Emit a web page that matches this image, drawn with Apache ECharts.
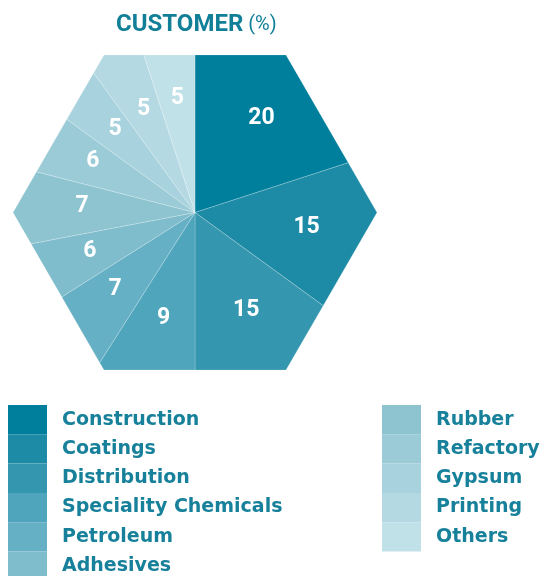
<!DOCTYPE html>
<html>
<head>
<meta charset="utf-8">
<script src="https://cdn.jsdelivr.net/npm/echarts@6/dist/echarts.min.js"></script>
<style>
html,body{margin:0;padding:0;background:#fff;}
#chart{width:541px;height:576px;}
</style>
</head>
<body>
<div id="chart"></div>
<script>
const categories = ['Construction','Coatings','Distribution','Speciality Chemicals','Petroleum','Adhesives','Rubber','Refactory','Gypsum','Printing','Others'];
const values = [20,15,15,9,7,6,7,6,5,5,5];
const colors = ['#007F9D','#1E8BA6','#3597AF','#4EA5BC','#65B0C5','#7FBCCC','#8DC4D0','#9ACBD7','#A8D2DD','#B4D9E2','#C1E1E8'];
const legendLeftItems = categories.slice(0,6);
const legendRightItems = categories.slice(6);

const total = values.reduce((a,b)=>a+b,0);
const cum = [0];
values.forEach(v => cum.push(cum[cum.length-1]+v));

const CX = 195, CY = 212.5, R = 182, LABEL_R = 113;
const APOTHEM = R*Math.sqrt(3)/2;
function boundary(deg){
  const n = Math.round(deg/60)*60;
  const d = APOTHEM/Math.cos((deg-n)*Math.PI/180);
  const a = deg*Math.PI/180;
  return [CX + d*Math.sin(a), CY - d*Math.cos(a)];
}

function makeRender(i){
  return function(params, api){
    const s = cum[i]/total*360, e = cum[i+1]/total*360;
    const pts = [[CX,CY], boundary(s)];
    for (let v=30; v<360; v+=60){ if (v>s && v<e) pts.push(boundary(v)); }
    pts.push(boundary(e));
    const mid = (s+e)/2*Math.PI/180;
    return {
      type:'group',
      children:[
        {type:'polygon', shape:{points:pts}, style:{fill:colors[i], stroke:'rgba(255,255,255,0.35)', lineWidth:0.6}},
        {type:'text', x: CX + LABEL_R*Math.sin(mid), y: CY - 3 - LABEL_R*Math.cos(mid),
         style:{text:String(api.value(0)), fill:'#fff', font:'bold 23px Roboto', align:'center', verticalAlign:'middle'}}
      ]
    };
  };
}

const series = categories.map((name,i)=>({
  type:'custom', name:name, coordinateSystem:'none',
  itemStyle:{color:colors[i]},
  data:[[values[i]]],
  renderItem: makeRender(i)
}));

const legendCommon = {
  orient:'vertical', icon:'rect', itemWidth:39, itemHeight:29.3, itemGap:0, padding:0,
  height:300, selectedMode:false,
  textStyle:{color:'#17809A', fontFamily:'DejaVu Sans', fontWeight:'bold', fontSize:19, padding:[5,0,0,10]}
};

const chart = echarts.init(document.getElementById('chart'), null, {renderer:'canvas'});
chart.setOption({
  animation:false,
  backgroundColor:'#fff',
  title:{
    left:111, top:8,
    text:'{a|CUSTOMER}{b| (%)}',
    textStyle:{rich:{
      a:{fontFamily:'Roboto', fontWeight:'bold', fontSize:24, color:'#127F99'},
      b:{fontFamily:'Roboto', fontWeight:'normal', fontSize:20, color:'#127F99'}
    }}
  },
  legend:[
    Object.assign({left:8, top:405, data:legendLeftItems}, legendCommon),
    Object.assign({left:382, top:405, data:legendRightItems}, legendCommon)
  ],
  series:series
});
</script>
</body>
</html>
